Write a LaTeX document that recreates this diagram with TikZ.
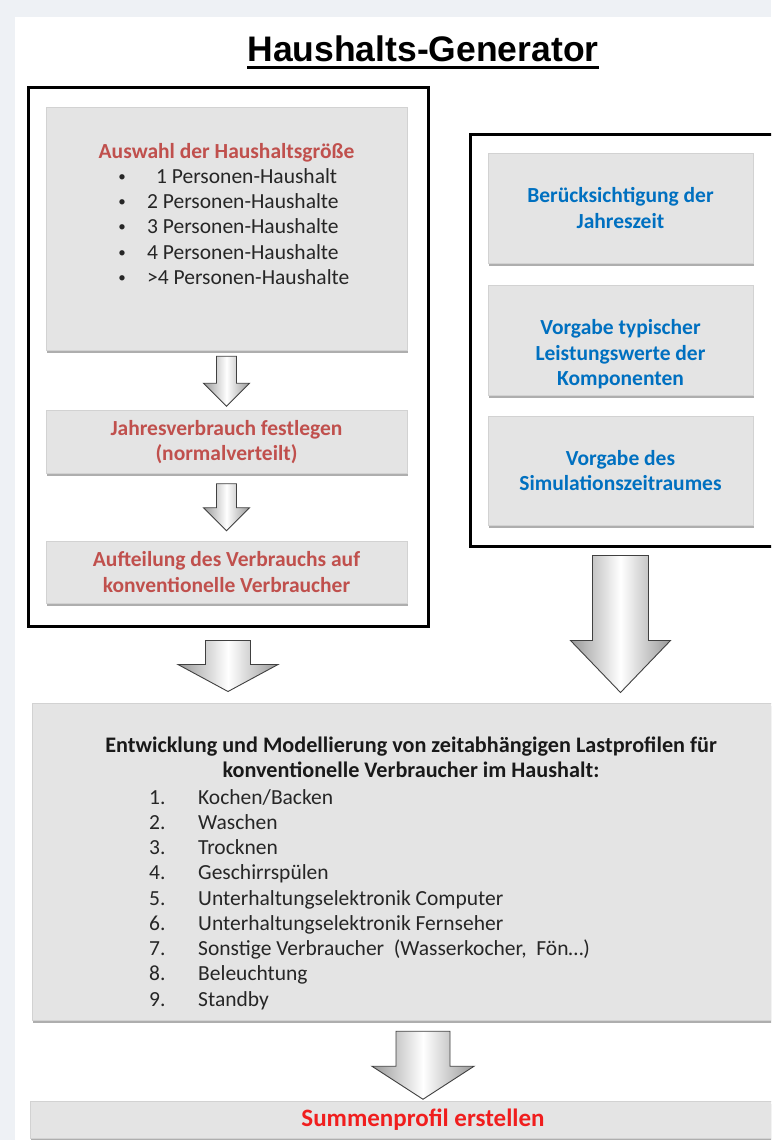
\documentclass[tikz,border=0pt]{standalone}
\usepackage{fontspec}
\setmainfont{Carlito}
\newfontfamily\titlefont{Liberation Sans}
\usetikzlibrary{positioning}
\usetikzlibrary{shadows}

\definecolor{pagegray}{HTML}{EEF1F5}
\definecolor{boxgray}{HTML}{E4E4E4}
\definecolor{boxline}{HTML}{D2D2D2}
\definecolor{leftred}{HTML}{C0504D}
\definecolor{rightblue}{HTML}{0070C0}
\definecolor{sumred}{HTML}{F01E1E}
\definecolor{listgray}{HTML}{262626}

\tikzset{
  graybox/.style={rectangle, fill=boxgray, draw=boxline, line width=0.5pt, inner sep=0pt,
    align=center, drop shadow={shadow xshift=1pt, shadow yshift=-2.5pt, fill=black!45, opacity=0.7}},
  frame/.style={rectangle, draw=black, line width=3pt, inner sep=0pt},
  boxtext/.style={font=\fontsize{21.5}{25.5}\selectfont\bfseries, align=center},
  redtext/.style={boxtext, text=leftred},
  bluetext/.style={boxtext, text=rightblue},
  listtext/.style={font=\fontsize{21.5}{25.5}\selectfont, text=listgray, inner sep=0pt},
  arrowbody/.style={draw=black!75, line width=0.9pt, left color=black!40,
    right color=black!40, middle color=white},
  pics/downarrow/.style n args={4}{code={
    \path[arrowbody] (-#1/2,0) -- (#1/2,0) -- (#1/2,#3) -- (#2/2,#3)
      -- (0,#3+#4) -- (-#2/2,#3) -- (-#1/2,#3) -- cycle;
  }},
}

\begin{document}
\begin{tikzpicture}[x=1pt, y=-1pt]
  \clip (0,0) rectangle (771,1140);
  \fill[pagegray] (0,0) rectangle (771,1140);
  \fill[white] (15,17) rectangle (771,1140);

  % title
  \node[anchor=base, inner sep=0pt, font=\titlefont\bfseries\fontsize{35.5}{40}\selectfont]
    (title) at (423,62) {Haushalts-Generator};
  \draw[line width=2.6pt] ([yshift=-5.5pt]title.base west) -- ([yshift=-5.5pt]title.base east);

  % left column
  \node[frame, minimum width=400pt, minimum height=539pt] (leftframe) at (228,356.5) {};
  \node[graybox, minimum width=361pt, minimum height=243pt] (sizebox) at (226.5,228.5) {};
  \node[redtext, anchor=base, inner sep=0pt] (sizetitle) at (226.5,158) {Auswahl der Haushaltsgröße};
  \foreach[count=\j] \lhh in {\hspace{9pt}1 Personen-Haushalt, 2 Personen-Haushalte,
      3 Personen-Haushalte, 4 Personen-Haushalte, >4 Personen-Haushalte} {
    \node[listtext, anchor=base, font=\fontsize{15}{18}\selectfont] (b-\j) at (122, 156+25.3*\j) {\textbullet};
    \node[listtext, anchor=base west] (h-\j) at (147, 158+25.3*\j) {\lhh};
  }
  \node[graybox, redtext, minimum width=361pt, minimum height=63pt, below=60pt of sizebox]
    (yearbox) {Jahresverbrauch festlegen\\(normalverteilt)};
  \node[graybox, redtext, minimum width=361pt, minimum height=62pt, below=67pt of yearbox]
    (splitbox) {Aufteilung des Verbrauchs auf\\konventionelle Verbraucher};

  % right column
  \node[frame, minimum width=320pt, minimum height=412pt] (rightframe) at (630,340) {};
  \node[graybox, bluetext, minimum width=265pt, minimum height=110pt] (seasonbox) at (620.5,208)
    {Berücksichtigung der\\Jahreszeit};
  \node[graybox, minimum width=265pt, minimum height=110pt, below=22pt of seasonbox] (powerbox) {};
  \node[bluetext, inner sep=0pt] (powertext) at ([yshift=-14pt]powerbox.center)
    {Vorgabe typischer\\Leistungswerte der\\Komponenten};
  \node[graybox, bluetext, minimum width=265pt, minimum height=109pt, below=20pt of powerbox]
    (periodbox) {Vorgabe des\\Simulationszeitraumes};

  % profiles
  \node[graybox, minimum width=758pt, minimum height=317pt] (devbox) at (411,861.5) {};
  \node[boxtext, inner sep=0pt, text=black!90, font=\fontsize{22.2}{25.5}\selectfont\bfseries]
    (devtitle) at (411,757.5)
    {Entwicklung und Modellierung von zeitabhängigen Lastprofilen für\\
     konventionelle Verbraucher im Haushalt:};
  \foreach[count=\j] \lload in {Kochen/Backen, Waschen, Trocknen, Geschirrspülen,
      Unterhaltungselektronik Computer, Unterhaltungselektronik Fernseher,
      {Sonstige Verbraucher~ (Wasserkocher,~ Fön…)}, Beleuchtung, Standby} {
    \node[listtext, anchor=base west] (n-\j) at (149, 778.75+25.25*\j) {\j.};
    \node[listtext, anchor=base west] (l-\j) at (198, 778.75+25.25*\j) {\lload};
  }
  \node[graybox, minimum width=786pt, minimum height=37pt, text=sumred,
    font=\fontsize{25}{28}\selectfont\bfseries] (sumbox) at (423,1119.5) {Summenprofil erstellen};

  % block arrows
  \path (sizebox.south) ++(0,6) pic {downarrow={20}{46}{27}{23}};
  \path (yearbox.south) ++(0,10) pic {downarrow={20}{46}{24}{23}};
  \path (leftframe.south) ++(0,13) pic {downarrow={45}{100}{24}{27}};
  \path (periodbox.south |- rightframe.south) ++(0,8) pic {downarrow={56}{100}{85}{52}};
  \path (devbox.south -| sumbox.north) ++(0,11) pic {downarrow={54}{102}{35}{33}};
\end{tikzpicture}
\end{document}
